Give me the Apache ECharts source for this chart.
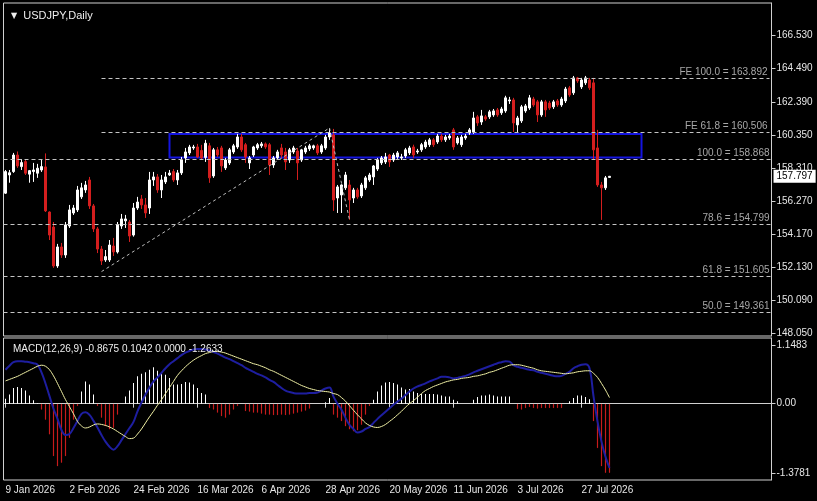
<!DOCTYPE html>
<html><head><meta charset="utf-8">
<script src="https://cdn.jsdelivr.net/npm/echarts@6.0.0/dist/echarts.min.js"></script>
<style>html,body{margin:0;padding:0;background:#000;}#c{width:817px;height:501px;}</style>
</head><body><div id="c"></div>
<script>
const tickLabels = ['9 Jan 2026','2 Feb 2026','24 Feb 2026','16 Mar 2026','6 Apr 2026','28 Apr 2026','20 May 2026','11 Jun 2026','3 Jul 2026','27 Jul 2026'];
const barsPerTick = 16;
const totalSlots = 192;

const opens = [156.75,157.88,158.09,159.12,158.40,158.71,157.93,158.09,157.99,158.19,
158.38,155.58,154.65,152.23,153.41,152.91,154.71,155.52,155.71,156.52,
156.95,157.57,155.96,154.53,153.28,152.60,152.60,153.47,153.10,154.71,
155.03,154.96,154.15,155.83,156.39,156.02,155.83,157.57,157.76,156.95,
157.45,157.88,158.09,157.57,158.01,158.94,159.25,159.56,159.62,159.40,
158.97,159.69,157.82,159.44,159.56,158.32,158.63,159.31,159.62,160.24,
159.76,158.63,159.12,159.56,159.69,159.81,159.76,158.50,158.94,159.56,
159.31,158.81,159.31,159.37,158.81,159.31,159.50,159.56,159.69,159.31,
159.56,160.24,160.37,156.45,156.64,157.08,157.26,156.45,156.95,156.58,
157.08,157.57,157.76,158.25,158.63,158.69,159.12,158.81,159.00,158.94,
159.06,159.25,159.62,159.31,159.44,159.62,159.76,160.06,159.93,160.30,
160.06,160.18,160.68,159.87,159.76,160.18,160.49,160.55,161.49,161.17,
161.49,161.49,161.61,161.92,161.74,161.86,162.48,162.54,160.99,161.24,
161.86,162.04,162.60,162.42,161.61,162.42,162.35,162.11,162.48,162.23,
162.48,163.29,162.98,163.91,163.35,163.60,163.78,163.60,159.56,157.26,
157.08,157.73];
const closes = [158.09,158.02,159.12,158.44,158.65,157.99,158.15,158.19,158.30,158.40,
155.65,154.15,152.23,153.41,152.91,154.78,155.71,155.83,156.95,157.08,
157.26,155.96,154.53,153.28,152.54,152.81,153.53,153.10,154.78,155.15,
155.15,154.09,155.83,156.20,156.02,155.52,157.57,157.76,156.95,157.57,
157.76,158.00,157.57,158.01,158.81,159.31,159.62,159.62,159.00,158.94,
159.85,157.70,159.44,159.12,158.44,158.81,159.44,159.69,160.24,159.44,
159.00,158.94,159.62,159.76,159.81,159.62,158.50,158.94,159.31,159.12,
158.69,159.44,159.56,158.63,159.44,159.56,159.69,159.69,159.25,159.69,
160.24,160.49,156.33,157.14,157.26,157.88,156.33,156.95,156.52,157.26,
157.70,157.88,158.44,158.81,158.94,159.00,158.69,159.12,159.25,159.00,
159.44,159.56,159.12,159.37,159.76,159.93,160.06,159.76,160.30,160.06,
160.24,160.30,159.62,160.18,160.24,160.30,160.68,161.42,161.11,161.55,
161.36,161.80,161.86,161.61,161.98,162.67,162.54,161.11,161.42,162.11,
162.17,162.67,162.23,161.61,162.42,161.92,162.04,162.42,162.23,162.60,
163.22,162.85,163.91,163.72,163.78,163.91,163.29,159.44,157.26,157.08,
157.70,157.797];
const lows = [156.70,157.40,158.01,158.32,158.19,157.88,157.40,157.45,157.70,158.07,
155.58,153.84,152.11,152.11,152.73,152.73,154.59,155.40,155.58,156.39,
156.77,155.77,154.34,153.03,152.29,152.48,152.48,152.85,153.00,154.53,
154.59,153.72,154.05,155.71,155.77,155.21,155.46,157.20,156.77,156.45,
157.32,157.82,157.45,157.26,157.88,158.63,159.12,159.44,158.94,158.81,
158.69,157.39,157.70,159.00,158.07,158.19,158.50,159.19,159.50,159.31,
158.63,158.25,159.00,159.44,159.56,159.50,157.88,158.32,158.81,158.94,
158.19,158.63,159.19,157.57,158.69,159.19,159.37,159.44,159.12,159.19,
159.44,160.06,155.65,155.52,155.52,156.95,155.09,156.14,156.40,156.45,
156.95,157.45,157.26,158.13,158.50,158.56,158.38,158.69,158.88,158.81,
158.94,159.12,158.94,159.19,159.31,159.50,159.62,159.62,159.81,159.93,
159.93,160.06,159.44,159.76,159.62,160.06,160.37,160.43,160.93,160.99,
161.24,161.36,161.49,161.49,161.61,161.74,162.29,160.55,160.49,161.11,
161.74,161.92,162.11,161.17,161.49,161.49,161.92,161.98,162.11,162.11,
162.35,162.73,162.85,163.60,163.22,163.47,163.16,158.81,157.14,155.09,
156.95,157.70];
const highs = [158.19,158.19,159.25,159.34,158.86,158.81,158.19,158.63,158.57,158.81,
159.22,155.62,154.96,153.60,153.66,154.96,156.02,156.02,157.20,157.39,
157.51,157.76,156.08,154.65,153.47,153.22,153.84,153.97,154.96,155.46,
155.40,155.09,156.14,156.52,156.64,156.45,158.07,158.07,157.94,157.88,
158.07,158.19,158.25,158.19,159.00,159.56,159.75,159.75,159.81,159.75,
160.06,159.87,159.56,159.62,159.69,158.94,159.56,159.81,160.43,160.43,
159.87,159.06,159.69,159.87,159.93,159.90,159.87,159.06,159.44,159.81,
159.56,159.56,159.69,159.56,159.50,159.69,159.81,159.76,159.81,159.81,
160.37,160.74,160.74,157.26,157.30,158.07,157.57,157.08,157.08,157.39,
157.82,158.01,158.50,158.94,159.06,159.25,159.19,159.25,159.37,159.19,
159.56,159.69,159.76,159.50,159.87,160.06,160.18,160.18,160.43,160.43,
160.37,160.43,160.80,160.30,160.37,160.43,160.80,161.80,161.61,161.92,
161.61,161.92,161.98,162.04,162.11,162.80,162.73,162.67,161.55,162.23,
162.29,162.85,162.73,162.54,162.54,162.54,162.48,162.54,162.60,162.73,
163.35,163.41,164.03,163.97,163.91,164.03,163.91,163.91,160.68,157.45,
157.82,157.82];

const macdHist = [0.10,0.18,0.31,0.33,0.31,0.26,0.16,0.07,0.01,-0.12,
-0.32,-0.61,-1.04,-1.24,-1.17,-1.04,-0.68,-0.32,-0.05,0.24,
0.44,0.38,0.18,-0.05,-0.28,-0.45,-0.51,-0.48,-0.22,0.00,
0.14,0.26,0.41,0.54,0.59,0.62,0.67,0.72,0.65,0.61,
0.57,0.51,0.38,0.38,0.39,0.43,0.42,0.38,0.31,0.21,
0.18,-0.09,-0.12,-0.18,-0.25,-0.28,-0.22,-0.12,-0.05,0.00,
-0.15,-0.16,-0.18,-0.18,-0.20,-0.22,-0.22,-0.23,-0.23,-0.22,
-0.23,-0.22,-0.20,-0.18,-0.16,-0.14,-0.10,0.00,0.00,0.00,
0.03,0.11,-0.22,-0.28,-0.35,-0.45,-0.51,-0.55,-0.53,-0.42,
-0.22,-0.05,0.08,0.24,0.36,0.42,0.43,0.41,0.38,0.32,
0.28,0.29,0.24,0.21,0.19,0.19,0.19,0.19,0.18,0.16,
0.14,0.14,0.08,0.05,0.00,0.00,0.00,0.08,0.13,0.16,
0.16,0.18,0.16,0.14,0.14,0.14,0.14,0.00,-0.11,-0.12,
-0.09,-0.07,-0.09,-0.10,-0.09,-0.09,-0.09,-0.09,-0.09,-0.09,
0.00,0.05,0.11,0.16,0.16,0.13,0.09,-0.35,-0.88,-1.24,
-1.37,-1.37];
const macdBlue = [0.67,0.75,0.82,0.84,0.84,0.83,0.82,0.80,0.77,0.62,
0.40,0.15,-0.10,-0.30,-0.52,-0.62,-0.60,-0.48,-0.34,-0.20,
-0.17,-0.22,-0.34,-0.47,-0.62,-0.75,-0.85,-0.91,-0.84,-0.72,
-0.60,-0.48,-0.36,-0.15,0.02,0.18,0.32,0.44,0.52,0.61,
0.70,0.78,0.84,0.90,0.96,1.01,1.04,1.07,1.08,1.08,
1.07,1.05,1.02,0.99,0.95,0.91,0.88,0.84,0.80,0.76,
0.71,0.67,0.63,0.59,0.56,0.52,0.47,0.43,0.37,0.31,
0.26,0.23,0.21,0.20,0.20,0.20,0.21,0.21,0.22,0.26,
0.30,0.32,0.14,0.00,-0.12,-0.28,-0.42,-0.50,-0.57,-0.55,
-0.50,-0.46,-0.38,-0.30,-0.23,-0.16,-0.09,-0.02,0.04,0.10,
0.17,0.24,0.30,0.34,0.37,0.40,0.44,0.47,0.50,0.53,
0.53,0.52,0.50,0.51,0.53,0.55,0.58,0.62,0.65,0.68,
0.71,0.74,0.77,0.80,0.82,0.84,0.83,0.76,0.73,0.71,
0.69,0.67,0.66,0.63,0.61,0.59,0.57,0.55,0.54,0.55,
0.59,0.63,0.70,0.74,0.77,0.78,0.70,0.15,-0.35,-0.75,
-1.05,-1.27];
const macdSignal = [0.45,0.48,0.51,0.54,0.58,0.62,0.66,0.70,0.74,0.76,
0.74,0.67,0.55,0.40,0.24,0.08,-0.06,-0.20,-0.35,-0.44,
-0.48,-0.46,-0.42,-0.40,-0.41,-0.43,-0.46,-0.50,-0.55,-0.60,
-0.65,-0.69,-0.68,-0.60,-0.50,-0.38,-0.26,-0.15,-0.03,0.08,
0.20,0.32,0.44,0.56,0.65,0.73,0.80,0.86,0.91,0.95,
0.99,1.01,1.03,1.03,1.02,1.00,0.97,0.94,0.91,0.88,
0.85,0.82,0.79,0.77,0.74,0.71,0.67,0.64,0.60,0.56,
0.52,0.48,0.44,0.40,0.36,0.33,0.30,0.28,0.26,0.25,
0.24,0.23,0.20,0.18,0.12,0.05,-0.04,-0.13,-0.22,-0.30,
-0.38,-0.43,-0.46,-0.47,-0.45,-0.41,-0.35,-0.29,-0.22,-0.15,
-0.07,0.00,0.06,0.13,0.20,0.26,0.30,0.34,0.37,0.40,
0.43,0.45,0.47,0.48,0.50,0.51,0.52,0.54,0.55,0.57,
0.59,0.62,0.64,0.67,0.70,0.73,0.76,0.77,0.77,0.76,
0.74,0.72,0.70,0.67,0.65,0.64,0.63,0.62,0.61,0.60,
0.59,0.60,0.61,0.63,0.64,0.65,0.65,0.60,0.52,0.40,
0.27,0.12];

const priceTicks = [148.050,150.090,152.130,154.170,156.270,158.310,160.350,162.390,164.490,166.530];
const macdTicks = [1.1483, 0, -1.3781];
const fibValues = [163.892, 160.506, 158.868, 154.799, 151.605, 149.361];
const fibTexts = ['FE 100.0 = 163.892','FE 61.8 = 160.506','100.0 = 158.868','78.6 = 154.799','61.8 = 151.605','50.0 = 149.361'];
const fibStartBar = [24, 24, null, null, null, null];
const trendPoints = [[24, 151.88], [81, 160.80], [86, 155.09]];
const zone = {fromBar: 41, toBar: 159, top: 160.42, bottom: 158.97};
const lastPrice = 157.797;
const macdTitle = 'MACD(12,26,9) -0.8675 0.1042 0.0000 -1.2633';
const chartTitle = 'USDJPY,Daily';

const FONT = 'Liberation Sans';
const RED = '#d41e1e';
const cats = Array.from({length: totalSlots}, (_, i) => String(i));
const showTick = (i) => i % barsPerTick === 0 && (i / barsPerTick) < tickLabels.length;
const candleData = opens.map((o, i) => [o, closes[i], lows[i], highs[i]]);

const fibLines = fibValues.map((v, k) => {
  const lbl = {show: true, formatter: fibTexts[k]};
  if (fibStartBar[k] === null) return {yAxis: v, label: lbl};
  return [{coord: [String(fibStartBar[k]), v], label: lbl}, {coord: [String(totalSlots - 1), v]}];
});
const trendLines = [];
for (let k = 0; k < trendPoints.length - 1; k++) {
  trendLines.push([
    {coord: [String(trendPoints[k][0]), trendPoints[k][1]], lineStyle: {color: '#bdbdbd', type: [3, 3], width: 1}, label: {show: false}},
    {coord: [String(trendPoints[k + 1][0]), trendPoints[k + 1][1]]}
  ]);
}
const priceLine = {yAxis: lastPrice, lineStyle: {color: 'rgba(0,0,0,0)', width: 1, type: 'solid'},
  label: {show: true, position: 'end', formatter: lastPrice.toFixed(3), color: '#000000', backgroundColor: '#ffffff', padding: [2, 3, 1, 3], fontSize: 10, fontFamily: FONT, distance: 2}};

const chart = echarts.init(document.getElementById('c'), null, {renderer: 'canvas'});
const axisColor = '#d0d0d0';
chart.setOption({
  animation: false,
  backgroundColor: '#000000',
  title: [
    {text: '{t|▼}  ' + chartTitle, left: 6, top: 5, textStyle: {color: '#eeeeee', fontSize: 11, fontWeight: 'normal', fontFamily: FONT, rich: {t: {fontSize: 8, color: '#eeeeee', fontFamily: 'DejaVu Sans'}}}},
    {text: macdTitle, left: 8, top: 339, textStyle: {color: '#eeeeee', fontSize: 10, fontWeight: 'normal', fontFamily: FONT}}
  ],
  grid: [
    {left: 3.5, right: 45.5, top: 3, height: 333, show: true, borderColor: axisColor, borderWidth: 1, backgroundColor: 'transparent'},
    {left: 3.5, right: 45.5, top: 338, height: 142, show: true, borderColor: axisColor, borderWidth: 1, backgroundColor: 'transparent'}
  ],
  xAxis: [
    {type: 'category', gridIndex: 0, data: cats, boundaryGap: true, axisLine: {show: false}, axisTick: {show: false}, axisLabel: {show: false}, splitLine: {show: false}},
    {type: 'category', gridIndex: 1, data: cats, boundaryGap: true,
      axisLine: {show: true, lineStyle: {color: axisColor}},
      axisTick: {show: true, alignWithLabel: true, interval: showTick, length: 4, lineStyle: {color: axisColor}},
      axisLabel: {show: true, interval: showTick, formatter: (v) => tickLabels[Number(v) / barsPerTick] || '', color: '#e6e6e6', fontSize: 10, fontFamily: FONT, align: 'left', margin: 5},
      splitLine: {show: false}}
  ],
  yAxis: [
    {type: 'value', gridIndex: 0, position: 'right', min: 147.88, max: 168.56, scale: true,
      axisLine: {show: true, lineStyle: {color: axisColor}},
      axisTick: {show: true, customValues: priceTicks, length: 4, lineStyle: {color: axisColor}},
      axisLabel: {show: true, customValues: priceTicks, formatter: (v) => Number(v).toFixed(3), color: '#e6e6e6', fontSize: 10, fontFamily: FONT, margin: 5},
      splitLine: {show: false}},
    {type: 'value', gridIndex: 1, position: 'right', min: -1.508, max: 1.298,
      axisLine: {show: true, lineStyle: {color: axisColor}},
      axisTick: {show: true, customValues: macdTicks, length: 4, lineStyle: {color: axisColor}},
      axisLabel: {show: true, customValues: macdTicks, formatter: (v) => Math.abs(Number(v)) < 1e-9 ? '0.00' : Number(v).toFixed(4), color: '#e6e6e6', fontSize: 10, fontFamily: FONT, margin: 5},
      splitLine: {show: false}}
  ],
  series: [
    {type: 'candlestick', xAxisIndex: 0, yAxisIndex: 0, data: candleData, barWidth: 2,
      itemStyle: {color: '#ffffff', color0: RED, borderColor: '#ffffff', borderColor0: RED, borderWidth: 1},
      markArea: {silent: true, data: [[{coord: [String(zone.fromBar), zone.top]}, {coord: [String(zone.toBar), zone.bottom]}]],
        itemStyle: {color: 'rgba(0,0,0,0)', borderColor: '#1414e0', borderWidth: 2}},
      markLine: {silent: true, symbol: ['none', 'none'], animation: false,
        lineStyle: {color: '#c4c4c4', type: [4, 3], width: 1},
        label: {show: true, position: 'insideEndTop', color: '#a8a8a8', fontSize: 10, fontFamily: FONT, distance: [2, 1]},
        data: fibLines.concat(trendLines, [priceLine])}
    },
    {type: 'bar', xAxisIndex: 1, yAxisIndex: 1, barWidth: 1,
      data: macdHist.map(v => ({value: v, itemStyle: v >= 0 ? {color: '#ffffff'} : {color: RED, borderColor: RED, borderWidth: 0.8}}))},
    {type: 'line', xAxisIndex: 1, yAxisIndex: 1, data: macdBlue, symbol: 'none', smooth: 0.4,
      lineStyle: {color: '#1e1ea0', width: 2}},
    {type: 'line', xAxisIndex: 1, yAxisIndex: 1, data: macdSignal, symbol: 'none', smooth: 0.4,
      lineStyle: {color: '#f2f2a6', width: 1}}
  ]
});
</script>
</body></html>
